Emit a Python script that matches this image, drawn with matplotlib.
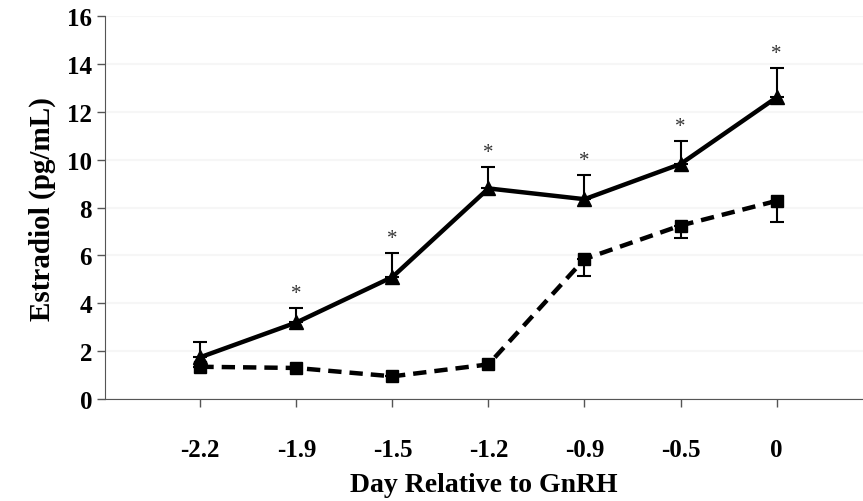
import numpy as np
import matplotlib.pyplot as plt

days = ["-2.2", "-1.9", "-1.5", "-1.2", "-0.9", "-0.5", "0"]

# solid line (triangles), error bars drawn upward
high = [1.75, 3.2, 5.1, 8.8, 8.35, 9.82, 12.6]
high_err = [0.65, 0.6, 1.0, 0.9, 1.0, 0.95, 1.25]
# dashed line (squares), error bars drawn downward
low = [1.35, 1.3, 0.95, 1.45, 5.85, 7.25, 8.28]
low_err = [0.0, 0.0, 0.0, 0.0, 0.7, 0.5, 0.88]
# asterisks above the solid series
signif = [False, True, True, True, True, True, True]

plt.rcParams['font.family'] = ['Liberation Serif', 'DejaVu Serif']
plt.rcParams['font.weight'] = 'bold'

fig = plt.figure(figsize=(8.63, 5.02), dpi=100)
ax = fig.add_axes([0.122, 0.203, 0.878, 0.763])

x = np.arange(len(days))
ax.errorbar(x, high, yerr=[np.zeros(len(high)), high_err], fmt='none',
            ecolor='black', elinewidth=1.5, capsize=5, capthick=1.5)
ax.errorbar(x, low, yerr=[low_err, np.zeros(len(low))], fmt='none',
            ecolor='black', elinewidth=1.5, capsize=5, capthick=1.5)
ax.plot(x, high, color='black', linewidth=3.2, marker='^', markersize=10)
ax.plot(x, low, color='black', linewidth=3.2, linestyle=(0, (3, 1.8)),
        marker='s', markersize=9)

for xi, h, e, s in zip(x, high, high_err, signif):
    if s:
        ax.text(xi, h + e + 0.2, '*', ha='center', va='bottom',
                fontsize=15, fontweight='normal', color='#333333')

ax.set_xlim(-0.99, 6.9)
ax.set_ylim(0, 16)
ax.set_yticks(np.arange(0, 17, 2))
ax.set_xticks(x)
ax.set_xticklabels(days)
ax.tick_params(axis='both', labelsize=18, length=6, width=1, color='#555555')
ax.tick_params(axis='x', pad=22)
for s in ['top', 'right']:
    ax.spines[s].set_visible(False)
for s in ['left', 'bottom']:
    ax.spines[s].set_color('#555555')
ax.yaxis.grid(True, color='#f6f6f6', linewidth=1.5)
ax.set_axisbelow(True)

ax.set_xlabel('Day Relative to GnRH', fontsize=20, fontweight='bold', labelpad=8)
ax.set_ylabel('Estradiol (pg/mL)', fontsize=21, fontweight='bold', labelpad=8)

fig.savefig('out.png', dpi=100)
